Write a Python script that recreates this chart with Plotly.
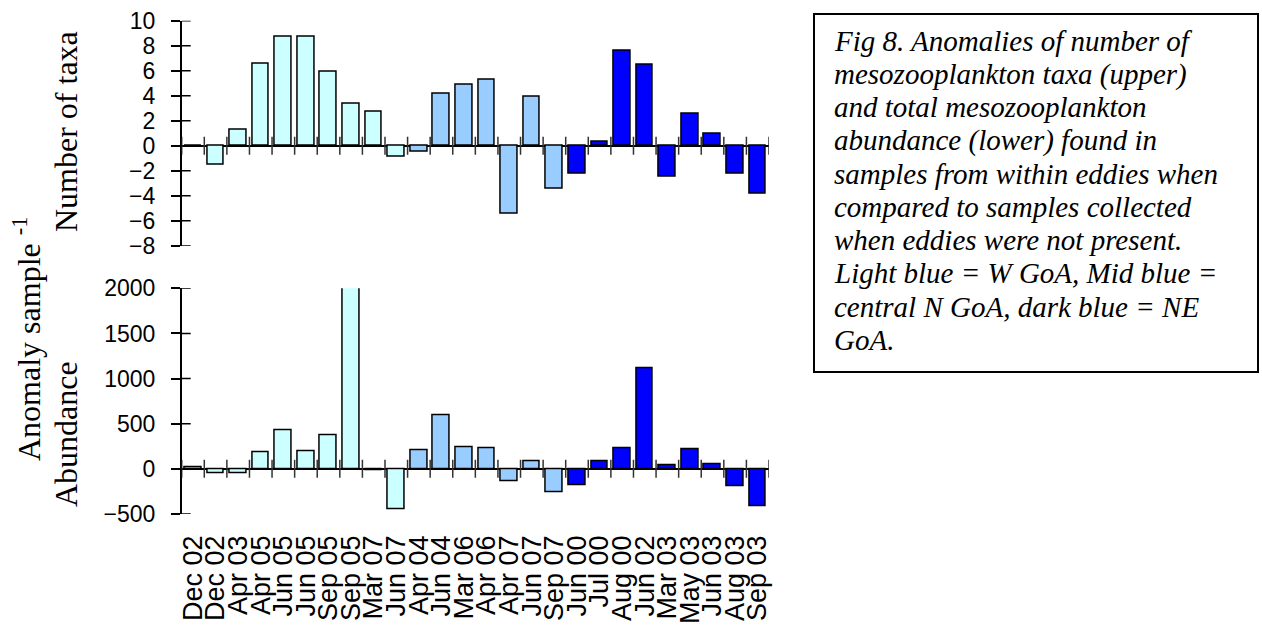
import plotly.graph_objects as go

# ---------------- data ----------------
categories = ["Dec 02", "Dec 02", "Apr 03", "Apr 05", "Jun 05", "Jun 05", "Sep 05", "Sep 05",
              "Mar 07", "Jun 07", "Apr 04", "Jun 04", "Mar 06", "Apr 06", "Apr 07", "Jun 07",
              "Sep 07", "Jun 00", "Jul 00", "Aug 00", "Jun 02", "Mar 03", "May 03", "Jun 03",
              "Aug 03", "Sep 03"]
regions = ["W", "W", "W", "W", "W", "W", "W", "W", "W", "W",
           "C", "C", "C", "C", "C", "C", "C",
           "NE", "NE", "NE", "NE", "NE", "NE", "NE", "NE", "NE"]
taxa_anomaly = [0, -1.5, 1.3, 6.6, 8.7, 8.7, 5.9, 3.4, 2.7, -0.9,
                -0.5, 4.2, 4.9, 5.3, -5.4, 3.9, -3.4,
                -2.2, 0.35, 7.6, 6.45, -2.45, 2.6, 0.95, -2.25, -3.85]
abundance_anomaly = [18, -48, -48, 181, 426, 200, 367, 2100, -18, -452,
                     211, 589, 244, 226, -133, 85, -259,
                     -181, 85, 226, 1111, 37, 215, 52, -196, -411]
taxa_ticks = [-8, -6, -4, -2, 0, 2, 4, 6, 8, 10]
abund_ticks = [-500, 0, 500, 1000, 1500, 2000]
region_colors = {"W": "#CCFFFF", "C": "#99CCFF", "NE": "#0000FF"}
caption_lines = ["Fig 8. Anomalies of number of",
                 "mesozooplankton taxa (upper)",
                 "and total mesozooplankton",
                 "abundance (lower) found in",
                 "samples from within eddies when",
                 "compared to samples collected",
                 "when eddies were not present.",
                 "Light blue = W GoA, Mid blue =",
                 "central N GoA, dark blue = NE",
                 "GoA."]

# ---------------- layout helpers ----------------
W, H = 1262, 629
def px_x(p):
    return p / W
def px_y(p):
    return 1 - p / H

xs = list(range(len(categories)))
colors = [region_colors[r] for r in regions]

fig = go.Figure()
fig.add_trace(go.Bar(x=xs, y=taxa_anomaly, marker=dict(color=colors, line=dict(color="black", width=1.5)),
                     width=0.74, xaxis="x", yaxis="y", showlegend=False))
fig.add_trace(go.Bar(x=xs, y=abundance_anomaly, marker=dict(color=colors, line=dict(color="black", width=1.5)),
                     width=0.74, xaxis="x2", yaxis="y2", showlegend=False))

xdom = [px_x(181.7), px_x(769)]
tick_font = dict(family="Liberation Sans, Arial", size=23, color="black")
axis_common = dict(showgrid=False, showline=True, linecolor="black", linewidth=1.5,
                   ticks="outside", ticklen=9, tickwidth=1.5, tickcolor="black",
                   zeroline=True, zerolinecolor="black", zerolinewidth=1.5,
                   tickfont=tick_font, ticklabelstandoff=11, automargin=False)

fig.update_layout(
    width=W, height=H,
    margin=dict(l=0, r=0, t=0, b=0, pad=0, autoexpand=False),
    plot_bgcolor="white", paper_bgcolor="white",
    bargap=0,
    xaxis=dict(domain=xdom, range=[-0.5, len(xs) - 0.5], anchor="y", showgrid=False,
               showline=False, zeroline=False, showticklabels=False, ticks="", automargin=False),
    yaxis=dict(domain=[px_y(245.7), px_y(20.7)], range=[-8, 10], tickvals=taxa_ticks,
               anchor="x", **axis_common),
    xaxis2=dict(domain=xdom, range=[-0.5, len(xs) - 0.5], anchor="y2", showgrid=False,
                showline=False, zeroline=False, tickvals=xs, ticktext=categories,
                tickangle=-90, ticks="", ticklabelstandoff=15, automargin=False,
                tickfont=dict(family="Liberation Sans, Arial", size=27, color="black")),
    yaxis2=dict(domain=[px_y(514), px_y(288.3)], range=[-500, 2000], tickvals=abund_ticks,
                anchor="x2", **axis_common),
)

# crossing ticks: inner half of y ticks and category-boundary ticks on the zero line
shapes = []
for ax_x, ax_y, tv in (("x", "y", taxa_ticks), ("x2", "y2", abund_ticks)):
    for v in tv:
        shapes.append(dict(type="line", xref=ax_x, yref=ax_y, xsizemode="pixel", xanchor=-0.5,
                           x0=0, x1=9, y0=v, y1=v, line=dict(color="black", width=1.5)))
    for b in range(len(xs) + 1):
        shapes.append(dict(type="line", xref=ax_x, yref=ax_y, ysizemode="pixel", yanchor=0,
                           y0=-9, y1=9, x0=b - 0.5, x1=b - 0.5, line=dict(color="#333333", width=1.5)))
# caption box
shapes.append(dict(type="rect", xref="paper", yref="paper", x0=px_x(814), x1=px_x(1258),
                   y0=px_y(372), y1=px_y(14), line=dict(color="black", width=2)))
fig.update_layout(shapes=shapes)

title_font = dict(family="Liberation Serif, Times New Roman", size=32, color="black")
annotations = [
    dict(text="Number of taxa", x=px_x(66), y=px_y(132), textangle=-90),
    dict(text="Abundance", x=px_x(66), y=px_y(434), textangle=-90),
    dict(text="Anomaly sample <sup>-1</sup>", x=px_x(27), y=px_y(339), textangle=-90),
]
for a in annotations:
    a.update(xref="paper", yref="paper", showarrow=False, xanchor="center", yanchor="middle",
             font=title_font)

cap_font = dict(family="Liberation Serif, Times New Roman", size=29, color="black")
for i, line in enumerate(caption_lines):
    baseline = 50.5 + i * 33.2
    annotations.append(dict(text="<i>" + line + "</i>", xref="paper", yref="paper",
                            x=px_x(832), y=px_y(baseline - 9.5), xanchor="left", yanchor="middle",
                            showarrow=False, font=cap_font))
fig.update_layout(annotations=annotations)

fig.write_html("out.html")
